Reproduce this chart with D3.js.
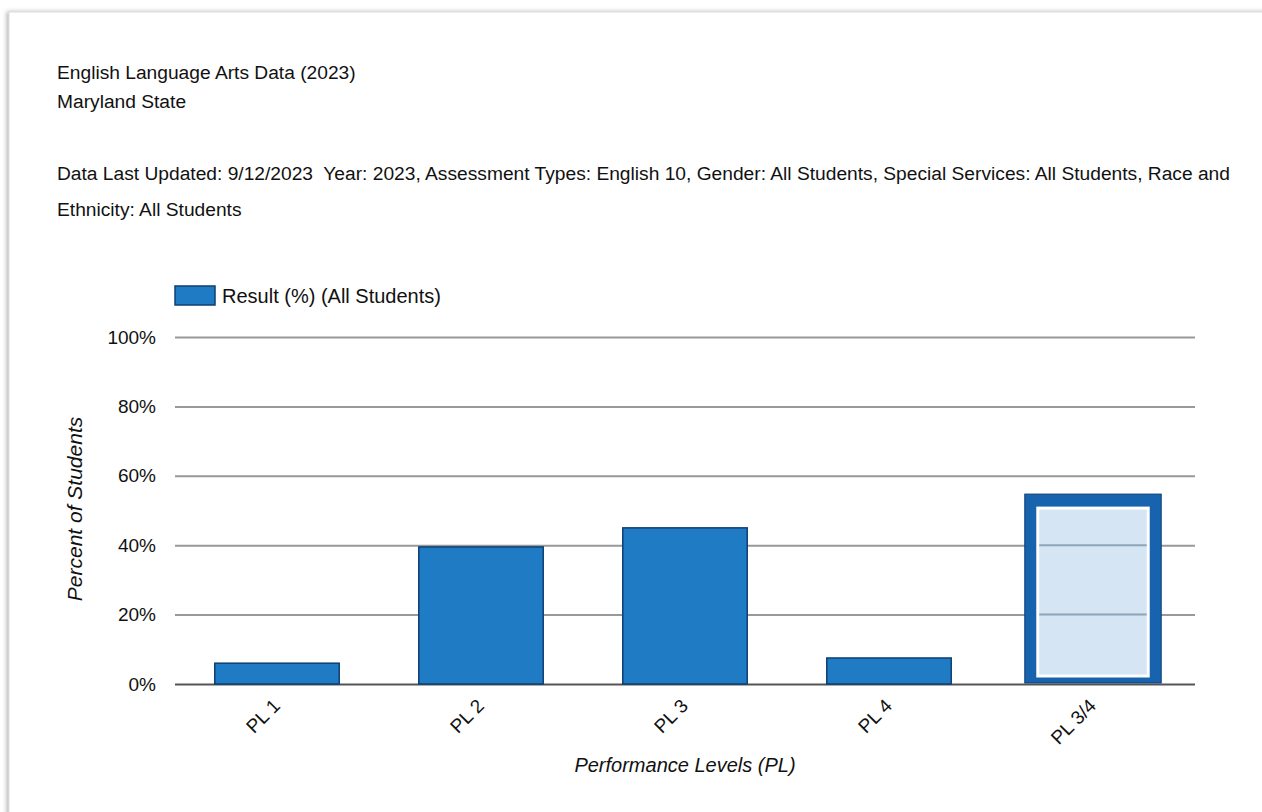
<!DOCTYPE html>
<html>
<head>
<meta charset="utf-8">
<script src="https://cdn.jsdelivr.net/npm/d3@7"></script>
<style>
body { margin: 0; background: #fff; }
svg text { font-family: "Liberation Sans", Arial, sans-serif; fill: #111; white-space: pre; }
</style>
</head>
<body>
<svg id="chart" width="1262" height="812"></svg>
<script>
var categories = ["PL 1", "PL 2", "PL 3", "PL 4", "PL 3/4"];
var values = [6, 39.5, 45, 7.5, 53];
var yTicks = [0, 20, 40, 60, 80, 100];
var headerLines = [
  "English Language Arts Data (2023)",
  "Maryland State",
  "",
  "Data Last Updated: 9/12/2023  Year: 2023, Assessment Types: English 10, Gender: All Students, Special Services: All Students, Race and",
  "Ethnicity: All Students"
];
var legendLabel = "Result (%) (All Students)";

var svg = d3.select("#chart");

// page frame with a soft shadow on the left
var defs = svg.append("defs");
var f = defs.append("filter").attr("id", "shadow").attr("x", "-5%").attr("y", "-5%").attr("width", "110%").attr("height", "110%");
f.append("feDropShadow").attr("dx", -2).attr("dy", 0).attr("stdDeviation", 2).attr("flood-color", "#888").attr("flood-opacity", 0.6);
svg.append("rect")
  .attr("x", 9).attr("y", 12).attr("width", 1300).attr("height", 900)
  .attr("fill", "#fff").attr("stroke", "#ddd").attr("filter", "url(#shadow)");

// header text
var headerY = [79, 108, 0, 180, 216];
svg.selectAll(".hdr")
  .data(headerLines)
  .enter().append("text")
  .attr("class", "hdr")
  .attr("x", 57)
  .attr("y", function(d, i) { return headerY[i]; })
  .attr("font-size", 19.2)
  .text(function(d) { return d; });

var margin = {top: 337, left: 175};
var width = 1020, height = 347;
var g = svg.append("g").attr("transform", "translate(" + margin.left + "," + margin.top + ")");

var x = d3.scaleBand().domain(categories).range([0, width]).paddingInner(0.39).paddingOuter(0.195);
var y = d3.scaleLinear().domain([0, 100]).range([height, 0]);

// gridlines
g.append("g")
  .call(d3.axisLeft(y).tickValues(yTicks).tickSize(-width).tickFormat(function(d) { return d + "%"; }))
  .call(function(a) {
    a.select(".domain").remove();
    a.selectAll(".tick line").attr("stroke", function(d) { return d === 0 ? "#555" : "#999"; }).attr("stroke-width", 2);
    a.selectAll(".tick text").attr("x", -19).attr("font-size", 19).attr("fill", "#222");
  });

var normal = categories.slice(0, 4);
g.selectAll(".bar")
  .data(normal)
  .enter().append("rect")
  .attr("class", "bar")
  .attr("x", function(d) { return x(d); })
  .attr("y", function(d, i) { return y(values[i]); })
  .attr("width", x.bandwidth())
  .attr("height", function(d, i) { return height - y(values[i]); })
  .attr("fill", "#1f7bc3")
  .attr("stroke", "#0e3f73")
  .attr("stroke-width", 1.5);

// highlighted combined bar
var last = categories[4], lv = values[4];
var hx = x(last), hy = y(lv), hw = x.bandwidth();
g.append("rect")
  .attr("x", hx - 6).attr("y", hy - 6)
  .attr("width", hw + 12).attr("height", height - hy + 5)
  .attr("fill", "#1763ad").attr("stroke", "#0e3f73").attr("stroke-width", 1);
g.append("rect")
  .attr("x", hx + 5.5).attr("y", hy + 6.5)
  .attr("width", hw - 11).attr("height", height - hy - 13)
  .attr("fill", "#fff");
g.append("rect")
  .attr("x", hx + 8.5).attr("y", hy + 9.5)
  .attr("width", hw - 17).attr("height", height - hy - 19)
  .attr("fill", "#d5e5f4");
// gridlines visible through the light fill
g.selectAll(".inner-grid")
  .data(yTicks.filter(function(t) { return t > 0 && t < lv; }))
  .enter().append("line")
  .attr("x1", hx + 8.5).attr("x2", hx + hw - 8.5)
  .attr("y1", function(d) { return y(d); }).attr("y2", function(d) { return y(d); })
  .attr("stroke", "#8ea4b8").attr("stroke-width", 2);

// x axis labels
g.append("g")
  .attr("transform", "translate(0," + height + ")")
  .call(d3.axisBottom(x).tickSize(0))
  .call(function(a) {
    a.select(".domain").remove();
    a.selectAll(".tick text")
      .attr("font-size", 19)
      .attr("fill", "#222")
      .attr("text-anchor", "end")
      .attr("dy", 0)
      .attr("transform", "translate(2,21) rotate(-45)");
  });

// axis titles
svg.append("text")
  .attr("transform", "translate(82,509) rotate(-90)")
  .attr("text-anchor", "middle")
  .attr("font-size", 21)
  .attr("font-style", "italic")
  .attr("fill", "#222")
  .text("Percent of Students");
svg.append("text")
  .attr("x", 685).attr("y", 772)
  .attr("text-anchor", "middle")
  .attr("font-size", 20)
  .attr("font-style", "italic")
  .attr("fill", "#222")
  .text("Performance Levels (PL)");

// legend
var legend = svg.append("g").attr("transform", "translate(175,286)");
legend.append("rect").attr("width", 40).attr("height", 19)
  .attr("fill", "#1f7bc3").attr("stroke", "#0e3f73").attr("stroke-width", 1.5);
legend.append("text").attr("x", 47).attr("y", 17).attr("font-size", 20).text(legendLabel);
</script>
</body>
</html>
